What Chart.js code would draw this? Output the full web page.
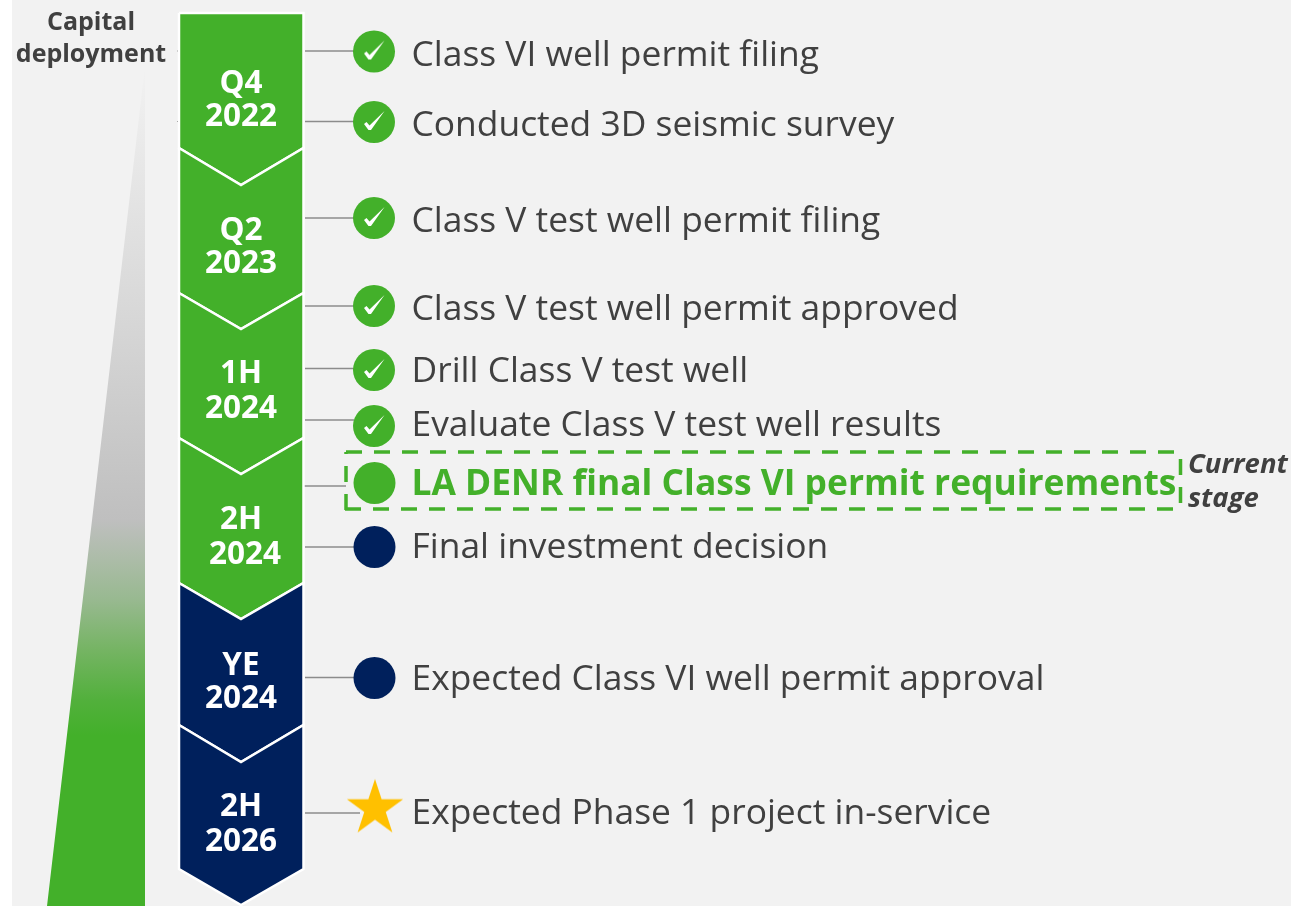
<!DOCTYPE html>
<html>
<head>
<meta charset="utf-8">
<title>Project timeline</title>
<style>
  html, body { margin: 0; padding: 0; background: #fff; }
  canvas { display: block; }
</style>
<script src="https://cdn.jsdelivr.net/npm/chart.js@4"></script>
</head>
<body>
<canvas id="timeline" width="1291" height="906"></canvas>
<script>
// --- CHART DATA (read on a 0-1291 / 0-906 axis pair) ---
const periodLines = [['Q4', '2022'], ['Q2', '2023'], ['1H', '2024'], ['2H', '2024'], ['YE', '2024'], ['2H', '2026']];
const periodLineOneY = [84, 231, 374, 520, 666, 807];
const periodLineTwoY = [117, 264, 409, 555, 699, 842];
const periodYearX = [241, 241, 241, 245, 241, 241];
const periodEnds = [148, 293, 438, 583, 725, 869];
const periodTips = [185, 329, 474, 619, 762, 905];
const periodStart = 13;
const periodStates = ['done', 'done', 'done', 'done', 'future', 'future'];

const milestones = [
  'Class VI well permit filing',
  'Conducted 3D seismic survey',
  'Class V test well permit filing',
  'Class V test well permit approved',
  'Drill Class V test well',
  'Evaluate Class V test well results',
  'LA DENR final Class VI permit requirements',
  'Final investment decision',
  'Expected Class VI well permit approval',
  'Expected Phase 1 project in-service'
];
const milestoneTextY = [56, 126, 222, 310, 372, 426, 485, 548, 680, 814];
const connectorY = [51, 121.5, 218, 306, 368.5, 420, 486, 547, 677.5, 813];
const connectorEndX = [354, 354, 354, 354, 354, 354, 346, 354, 354, 360];
const completedY = [51.5, 122, 218, 306, 370, 426];
const currentY = [483];
const futureY = [547, 678];
const targetY = [808.5];

const wedgeX = [145, 145, 47, 145];
const wedgeY = [66, 906, 906, 66];

// --- COLOURS ---
const GREEN = '#43b02a';
const NAVY = '#00205c';
const INK = '#404040';

// --- MARKER IMAGES ---
function makeCheckImage() {
  const c = document.createElement('canvas');
  c.width = 30; c.height = 30;
  const g = c.getContext('2d');
  g.translate(15, 15);
  g.fillStyle = '#fff';
  g.beginPath();
  g.moveTo(-10, 2);
  g.lineTo(-7.5, 0);
  g.lineTo(-4.5, 3.5);
  g.lineTo(10.5, -11);
  g.lineTo(-3, 8);
  g.lineTo(-5.5, 8);
  g.closePath();
  g.fill();
  return c;
}

function makeStarImage() {
  const c = document.createElement('canvas');
  c.width = 62; c.height = 62;
  const g = c.getContext('2d');
  g.translate(31, 31);
  g.fillStyle = '#ffc000';
  g.beginPath();
  for (let i = 0; i < 10; i++) {
    const r = i % 2 ? 11.3 : 29.6;
    const a = -Math.PI / 2 + i * Math.PI / 5;
    g.lineTo(r * Math.cos(a), r * Math.sin(a));
  }
  g.closePath();
  g.fill();
  return c;
}

// --- DATASET HELPERS ---
function polygon(points, color, extra) {
  return Object.assign({
    type: 'scatter', showLine: true, data: points, pointRadius: 0, tension: 0,
    fill: 'shape', backgroundColor: color, borderColor: color, borderWidth: 0, clip: false
  }, extra);
}

function wedgeGradient(ctx) {
  const chart = ctx.chart;
  if (!chart.chartArea) return '#bfbfbf';
  const y = chart.scales.y;
  const top = y.getPixelForValue(66);
  const bottom = y.getPixelForValue(906);
  const g = chart.ctx.createLinearGradient(0, top, 0, bottom);
  const stops = [[66, '#f2f2f2'], [300, '#d9d9d9'], [520, '#bfbfbf'], [600, '#98b990'], [650, '#75b463'], [700, '#52b03c'], [735, GREEN], [906, GREEN]];
  stops.forEach(s => g.addColorStop((s[0] - 66) / (906 - 66), s[1]));
  return g;
}

const L = 179, C = 241, R = 303.5;
const chevrons = periodEnds.map((end, i) => {
  const top = i === 0
    ? [{ x: L, y: periodStart }, { x: R, y: periodStart }]
    : [{ x: L, y: periodEnds[i - 1] }, { x: C, y: periodTips[i - 1] }, { x: R, y: periodEnds[i - 1] }];
  const pts = top.concat([{ x: R, y: end }, { x: C, y: periodTips[i] }, { x: L, y: end }, top[0]]);
  return polygon(pts, periodStates[i] === 'done' ? GREEN : NAVY, {
    borderColor: '#fff', borderWidth: 2.5, order: 20 - i
  });
});

const connectors = connectorY.map((y, i) => ({
  type: 'scatter', showLine: true, pointRadius: 0, borderColor: '#8c8c8c', borderWidth: 1.5, clip: false,
  data: [{ x: i === 6 ? 303 : 305, y: y }, { x: connectorEndX[i], y: y }], order: 30
}));

// left-side stubs behind the first chevron
const stubs = [connectorY[0], connectorY[1]].map(y => ({
  type: 'scatter', showLine: true, pointRadius: 0, borderColor: '#8c8c8c', borderWidth: 1, clip: false,
  data: [{ x: 177, y: y }, { x: 178.5, y: y }], order: 30
}));

const dots = (ys, x, color, extra) => Object.assign({
  type: 'scatter', data: ys.map(y => ({ x: x, y: y })), pointStyle: 'circle', pointRadius: 21,
  backgroundColor: color, borderWidth: 0, clip: false, order: 5
}, extra);

const dashEdge = (a, b) => ({
  type: 'scatter', showLine: true, pointRadius: 0, borderColor: GREEN, borderWidth: 3.5,
  borderDash: [16, 12], data: [a, b], clip: false, order: 6
});

const datasets = [
  polygon(wedgeX.map((x, i) => ({ x: x, y: wedgeY[i] })), ctx => wedgeGradient(ctx), { order: 40, borderWidth: 0 }),
  ...chevrons,
  ...connectors,
  ...stubs,
  dashEdge({ x: 346, y: 452 }, { x: 1176, y: 452 }),
  dashEdge({ x: 345, y: 509 }, { x: 1176, y: 509 }),
  dashEdge({ x: 346, y: 510 }, { x: 346, y: 452 }),
  dashEdge({ x: 1180.5, y: 459 }, { x: 1180.5, y: 504 }),
  dots(completedY, 374, GREEN),
  dots(completedY, 374, 'transparent', { pointStyle: makeCheckImage(), order: 1 }),
  dots(currentY, 374.5, GREEN),
  dots(futureY, 374.5, NAVY),
  dots(targetY, 375, '#ffc000', { pointStyle: makeStarImage(), order: 1 })
];

// --- TEXT AND BACKGROUND ---
const labelPlugin = {
  id: 'labels',
  beforeDraw(chart) {
    const { ctx, scales } = chart;
    ctx.save();
    ctx.fillStyle = '#f2f2f2';
    const left = scales.x.getPixelForValue(12);
    ctx.fillRect(left, 0, chart.width - left, chart.height);
    ctx.restore();
  },
  afterDraw(chart) {
    const { ctx, scales } = chart;
    const px = v => scales.x.getPixelForValue(v);
    const py = v => scales.y.getPixelForValue(v);
    ctx.save();
    ctx.textBaseline = 'middle';

    ctx.textAlign = 'center';
    ctx.fillStyle = INK;
    ctx.font = 'bold 25px "Open Sans"';
    ctx.fillText('Capital', px(91), py(23));
    ctx.fillText('deployment', px(91), py(55));

    ctx.fillStyle = '#fff';
    ctx.font = 'bold 31.5px "Open Sans"';
    periodLines.forEach((p, i) => {
      ctx.fillText(p[0], px(241), py(periodLineOneY[i]));
      ctx.fillText(p[1], px(periodYearX[i]), py(periodLineTwoY[i]));
    });

    ctx.textAlign = 'left';
    milestones.forEach((m, i) => {
      const current = i === 6;
      ctx.fillStyle = current ? GREEN : INK;
      ctx.font = (current ? 'bold ' : '') + '35.4px "Open Sans"';
      ctx.fillText(m, px(411.5), py(milestoneTextY[i]));
    });

    ctx.fillStyle = INK;
    ctx.font = 'italic bold 27.5px "Open Sans"';
    ctx.fillText('Current', px(1188), py(465));
    ctx.fillText('stage', px(1188), py(499));
    ctx.restore();
  }
};

new Chart(document.getElementById('timeline'), {
  type: 'scatter',
  data: { datasets: datasets },
  plugins: [labelPlugin],
  options: {
    responsive: false,
    animation: false,
    events: [],
    layout: { padding: 0, autoPadding: false },
    plugins: { legend: { display: false }, tooltip: { enabled: false } },
    scales: {
      x: { type: 'linear', display: false, min: 0, max: 1291 },
      y: { type: 'linear', display: false, min: 0, max: 906, reverse: true }
    }
  }
});
</script>
</body>
</html>
